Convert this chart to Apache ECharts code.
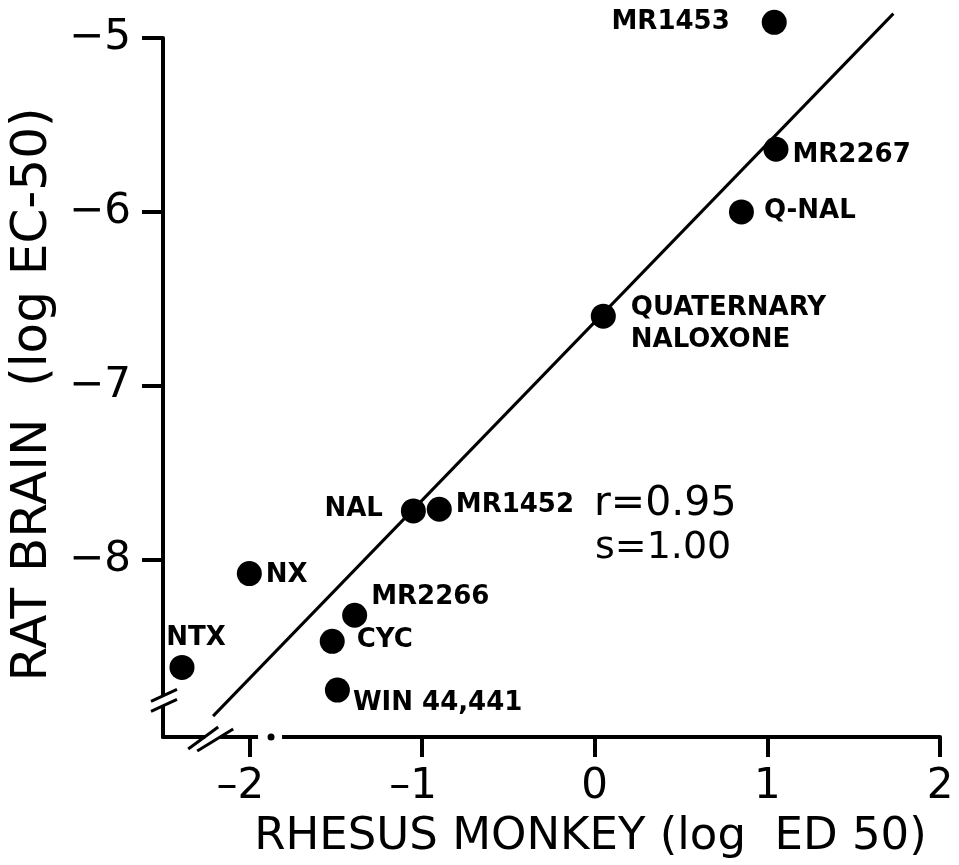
<!DOCTYPE html>
<html>
<head>
<meta charset="utf-8">
<script src="https://cdn.jsdelivr.net/npm/echarts@6/dist/echarts.min.js"></script>
<style>html,body{margin:0;padding:0;background:#fff;}#c{width:959px;height:865px;}</style>
</head>
<body>
<div id="c"></div>
<script>
// ---- data ----
var compounds = ['MR1453','MR2267','Q-NAL','QUATERNARY\nNALOXONE','NAL','MR1452','NX','MR2266','CYC','WIN 44,441','NTX'];
var monkeyLogED50 = [1.04, 1.05, 0.85, 0.05, -1.05, -0.90, -2.00, -1.39, -1.52, -1.49, -2.39];
var ratLogEC50 = [-4.91, -5.64, -6.00, -6.60, -7.72, -7.71, -8.08, -8.32, -8.47, -8.75, -8.62];
var fitX = [-2.21, 1.73];
var fitY = [-8.90, -4.86];
var xTicks = [-2, -1, 0, 1, 2];
var yTicks = [-8, -7, -6, -5];
var xName = 'RHESUS MONKEY (log  ED 50)';
var yName = 'RAT BRAIN  (log EC-50)';
var statR = 'r=0.95';
var statS = 's=1.00';

// ---- label placement (style) ----
var placement = {
  'MR1453': {position: 'left', distance: 32, offset: [0, 0]},
  'MR2267': {position: 'right', distance: 4, offset: [0, 6]},
  'Q-NAL': {position: 'right', distance: 10, offset: [0, -1]},
  'QUATERNARY\nNALOXONE': {position: 'right', distance: 15, offset: [0, 8]},
  'NAL': {position: 'left', distance: 18, offset: [0, -2]},
  'MR1452': {position: 'right', distance: 4, offset: [0, -4]},
  'NX': {position: 'right', distance: 4, offset: [0, 2]},
  'MR2266': {position: 'right', distance: 4, offset: [0, -18]},
  'CYC': {position: 'right', distance: 12, offset: [0, -1]},
  'WIN 44,441': {position: 'right', distance: 3, offset: [0, 13]},
  'NTX': {position: 'top', distance: 1, offset: [14, 0]}
};

var FONT = 'DejaVu Sans';
var chart = echarts.init(document.getElementById('c'), null, {renderer: 'canvas'});

var scatterData = compounds.map(function (n, i) {
  var p = placement[n];
  return {
    name: n,
    value: [monkeyLogED50[i], ratLogEC50[i]],
    label: {show: true, position: p.position, distance: p.distance, offset: p.offset}
  };
});

function xfmt(v) { return v < 0 ? '\u2013' + Math.abs(v) : String(v); }
function yfmt(v) { return v < 0 ? '\u2212' + Math.abs(v) : String(v); }

chart.setOption({
  animation: false,
  backgroundColor: '#fff',
  grid: {left: 163, right: 19, top: 38, bottom: 127, containLabel: false},
  xAxis: {
    type: 'value', min: -2.5, max: 2,
    name: xName, nameLocation: 'middle', nameGap: 78,
    nameTextStyle: {fontFamily: FONT, fontSize: 45, color: '#000', padding: [0, 0, 0, 78]},
    axisLine: {show: true, onZero: false, lineStyle: {color: '#000', width: 4}},
    axisTick: {show: true, customValues: xTicks, length: 20, inside: false, lineStyle: {color: '#000', width: 4}},
    axisLabel: {
      customValues: xTicks, margin: 29,
      formatter: function (v) { return v < 0 ? '{n|' + xfmt(v) + '}' : '{p|' + v + '}'; },
      rich: {
        n: {fontFamily: FONT, fontSize: 42, color: '#000', padding: [0, 18, 0, 0]},
        p: {fontFamily: FONT, fontSize: 42, color: '#000'}
      }
    },
    splitLine: {show: false}
  },
  yAxis: {
    type: 'value', min: -9.02, max: -5,
    name: yName, nameLocation: 'middle', nameGap: 104,
    nameTextStyle: {fontFamily: FONT, fontSize: 50, color: '#000', padding: [0, 14, 0, 0]},
    axisLine: {show: true, onZero: false, lineStyle: {color: '#000', width: 4}},
    axisTick: {show: true, customValues: yTicks, length: 21, lineStyle: {color: '#000', width: 4}},
    axisLabel: {
      customValues: yTicks, margin: 32,
      formatter: yfmt,
      fontFamily: FONT, fontSize: 42, color: '#000', padding: [16, 0, 0, 0]
    },
    splitLine: {show: false}
  },
  series: [
    {
      type: 'line', clip: false, symbol: 'none', silent: true,
      data: fitX.map(function (x, i) { return [x, fitY[i]]; }),
      lineStyle: {color: '#000', width: 3}, z: 1
    },
    {
      type: 'scatter', clip: false, symbol: 'circle', symbolSize: 25,
      itemStyle: {color: '#000', opacity: 1},
      label: {
        show: true, formatter: '{b}', fontFamily: FONT, fontWeight: 'bold',
        fontSize: 26, color: '#000', lineHeight: 32, opacity: 1
      },
      data: scatterData, z: 3
    }
  ]
});

// decorations: axis breaks and annotation text
var yb = chart.convertToPixel({gridIndex: 0}, [-2.5, -8.81]);
var xb = chart.convertToPixel({gridIndex: 0}, [-2.215, -9.02]);
var dd = chart.convertToPixel({gridIndex: 0}, [-1.88, -9.02]);
var ln = {stroke: '#000', lineWidth: 3};
chart.setOption({
  graphic: [
    // y-axis break
    {type: 'rect', shape: {x: yb[0] - 5, y: yb[1] - 5, width: 10, height: 10}, style: {fill: '#fff'}, z: 50},
    {type: 'line', shape: {x1: yb[0] - 12, y1: yb[1] + 1, x2: yb[0] + 14, y2: yb[1] - 11}, style: ln, z: 51},
    {type: 'line', shape: {x1: yb[0] - 12, y1: yb[1] + 11, x2: yb[0] + 14, y2: yb[1] - 1}, style: ln, z: 51},
    // x-axis break
    {type: 'rect', shape: {x: xb[0] - 7, y: xb[1] - 5, width: 15, height: 10}, style: {fill: '#fff'}, z: 50},
    {type: 'line', shape: {x1: xb[0] - 24, y1: xb[1] + 12, x2: xb[0] + 6, y2: xb[1] - 10}, style: ln, z: 51},
    {type: 'line', shape: {x1: xb[0] - 15, y1: xb[1] + 14, x2: xb[0] + 21, y2: xb[1] - 8}, style: ln, z: 51},
    // dash-dot segment
    {type: 'rect', shape: {x: dd[0] - 12, y: dd[1] - 5, width: 24, height: 10}, style: {fill: '#fff'}, z: 50},
    {type: 'circle', shape: {cx: dd[0] + 1, cy: dd[1], r: 3.5}, style: {fill: '#000'}, z: 51},
    // statistics
    {type: 'text', left: 594, top: 484, style: {text: statR, font: '41px "DejaVu Sans"', fill: '#000'}, z: 60},
    {type: 'text', left: 595, top: 529, style: {text: statS, font: '38px "DejaVu Sans"', fill: '#000'}, z: 60}
  ]
});
</script>
</body>
</html>
